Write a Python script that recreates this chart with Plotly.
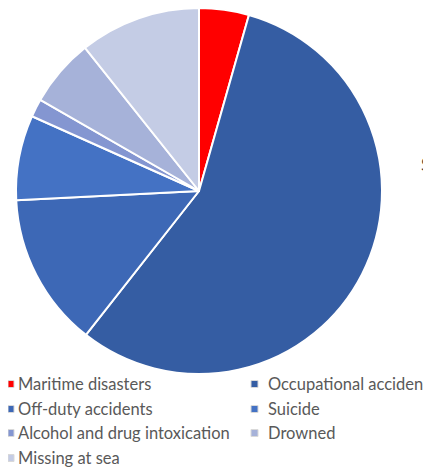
import plotly.graph_objects as go

# the page body keeps the browser's 8px margin, so the figure is drawn
# 8px in from the window's top-left corner; positions below are given in
# window pixels and shifted back by OFF.
OFF = 8
W, H = 431 - OFF, 469 - OFF

# ── data ────────────────────────────────────────────────────────────
causes = [
    "Maritime disasters",
    "Occupational accidents",
    "Off-duty accidents",
    "Suicide",
    "Alcohol and drug intoxication",
    "Drowned",
    "Missing at sea",
]
shares = [4.4, 56.2, 13.6, 7.5, 1.6, 6.0, 10.7]
colors = ["#FF0000", "#355DA3", "#3D68B6", "#4472C4", "#8496D1", "#A6B2D9", "#C4CCE5"]

TEXT = "#595959"
FONT = "Lato, 'Open Sans', sans-serif"


def px_x(x):
    return (x - OFF) / W


def px_y(y):
    return 1 - (y - OFF) / H


# pie: centre (199, 191), radius 183 in window pixels
cx, cy, r = 199, 191, 183
fig = go.Figure(go.Pie(
    labels=causes,
    values=shares,
    sort=False,
    direction="clockwise",
    rotation=0,
    marker=dict(colors=colors, line=dict(color="white", width=2)),
    textinfo="none",
    hoverinfo="label+percent",
    showlegend=False,
    domain=dict(x=[px_x(cx - r), px_x(cx + r)], y=[px_y(cy + r), px_y(cy - r)]),
))

# two-column legend laid out like the original (office-style, tight gap)
mark_x = [8, 251]
mark_w = [6, 7]
text_x = [16, 266]
row_y = [384, 409, 433, 458]
shapes, notes = [], []
for i, (name, c) in enumerate(zip(causes, colors)):
    col = i % 2
    yc = row_y[i // 2]
    x0 = mark_x[col]
    shapes.append(dict(
        type="rect", xref="paper", yref="paper",
        x0=px_x(x0), x1=px_x(x0 + mark_w[col]), y0=px_y(yc + 3.5), y1=px_y(yc - 3.5),
        fillcolor=c, line=dict(color="#D9D9D9", width=1),
    ))
    notes.append(dict(
        text=name, xref="paper", yref="paper",
        x=px_x(text_x[col]), y=px_y(yc), xanchor="left", yanchor="middle",
        showarrow=False, font=dict(size=16.5, color=TEXT, family=FONT),
    ))

# clipped labels of a neighbouring element at the right edge
for t, x, y in [("S", 419, 165), ("A", 424, 222)]:
    notes.append(dict(
        text=t, xref="paper", yref="paper", x=px_x(x), y=px_y(y),
        xanchor="left", yanchor="middle", showarrow=False,
        font=dict(size=17, color="#404040", family=FONT),
    ))

fig.update_layout(
    width=W,
    height=H,
    margin=dict(l=0, r=0, t=0, b=0),
    paper_bgcolor="white",
    plot_bgcolor="white",
    font=dict(family=FONT, color=TEXT),
    shapes=shapes,
    annotations=notes,
)

fig.write_html("out.html")
